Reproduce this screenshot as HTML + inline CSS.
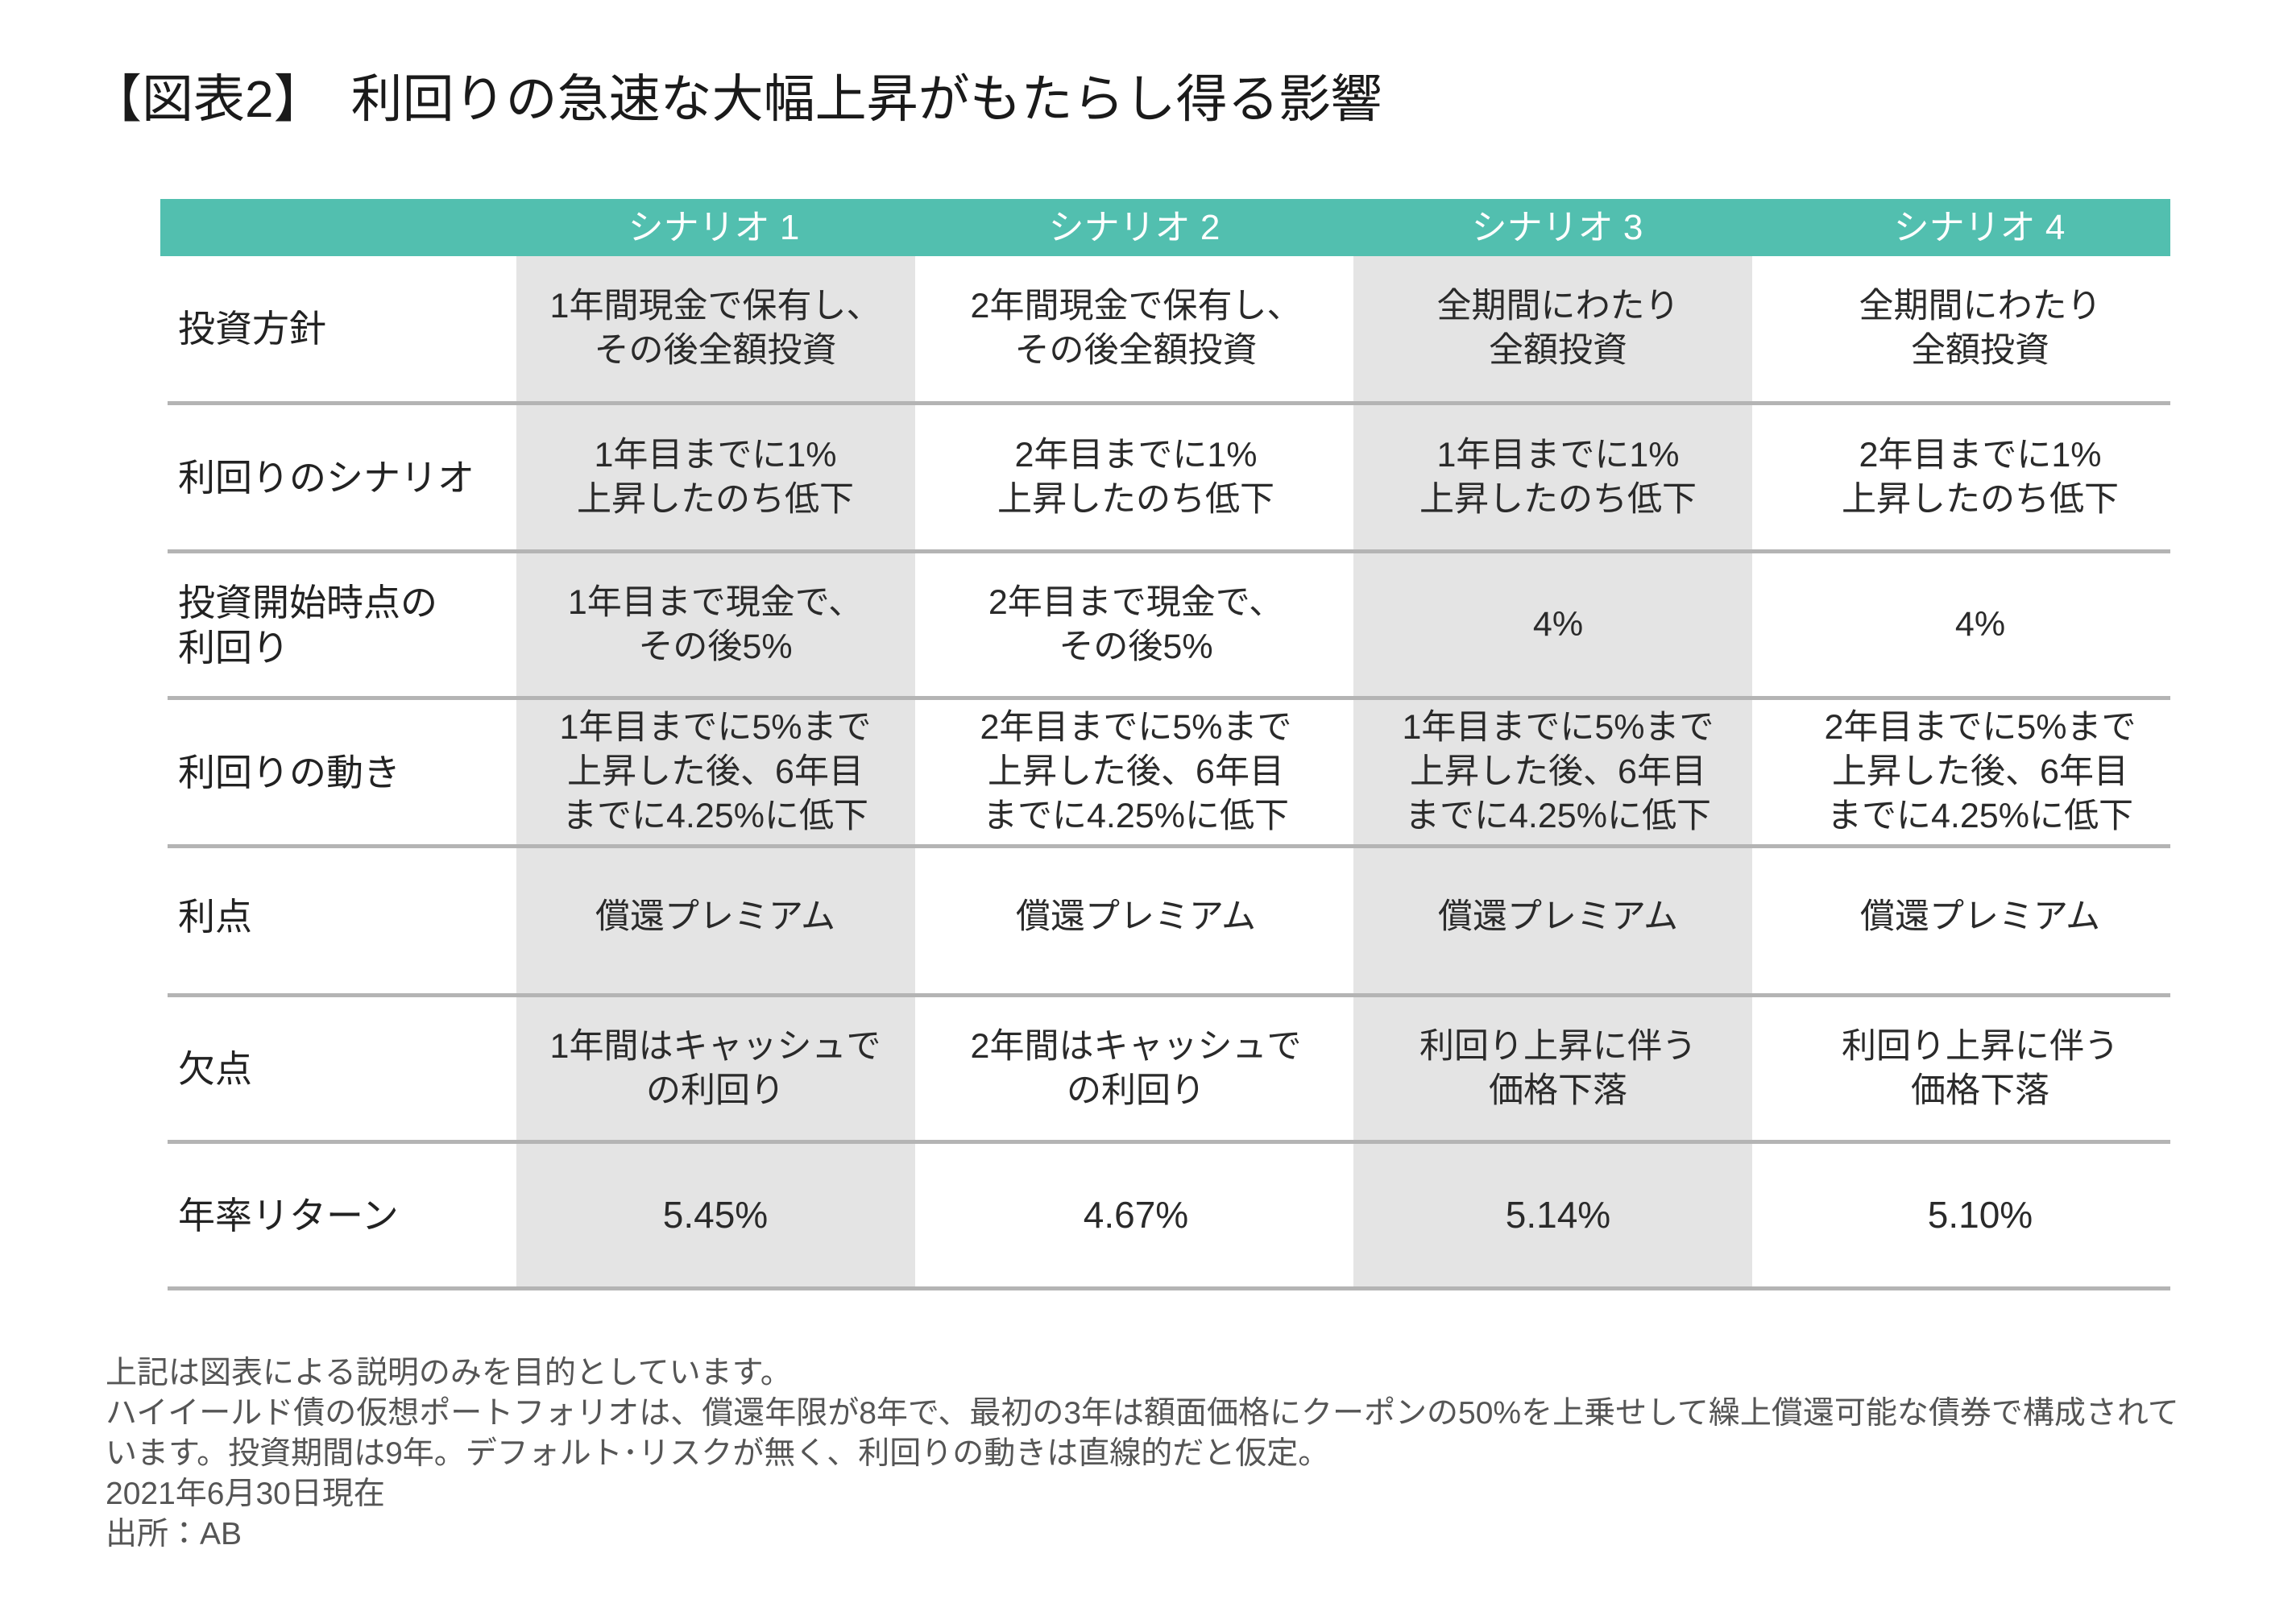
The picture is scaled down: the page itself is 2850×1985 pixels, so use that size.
<!DOCTYPE html>
<html><head><meta charset="utf-8"><style>
body{margin:0;width:2850px;height:1985px;background:#fff;position:relative;overflow:hidden;font-family:"Liberation Sans","Noto Sans CJK JP",sans-serif;color:#222}
.a{position:absolute}
.title{left:112px;top:83px;font-size:64px;line-height:80px;color:#1a1a1a;white-space:nowrap}
.hdr{left:199px;top:247px;width:2495px;height:71px;background:#52bfaf}
.ht{top:247px;height:71px;line-height:71px;color:#fff;font-size:44px;text-align:center;width:500px}
.g{top:318px;height:1284px;background:#e4e4e4}
.ln{left:208px;width:2486px;height:5px;background:#b4b4b4}
.row{left:0;width:2850px}
.lab{position:absolute;left:221px;top:0;height:100%;display:flex;align-items:center;font-size:46px;line-height:56px;color:#222}
.c{position:absolute;top:0;height:100%;width:520px;display:flex;align-items:center;justify-content:center;text-align:center;font-size:43px;line-height:55px;color:#2a2a2a}
.fn{left:131px;top:1680px;font-size:39px;line-height:50px;color:#555;white-space:nowrap}
</style></head><body>
<div class="a title">【図表2】　利回りの急速な大幅上昇がもたらし得る影響</div>
<div class="a hdr"></div>
<div class="a g" style="left:641px;width:495px"></div>
<div class="a g" style="left:1680px;width:495px"></div>
<div class="a ht" style="left:636px">シナリオ 1</div>
<div class="a ht" style="left:1158px">シナリオ 2</div>
<div class="a ht" style="left:1683px">シナリオ 3</div>
<div class="a ht" style="left:2207px">シナリオ 4</div>

<div class="a ln" style="top:498px"></div>
<div class="a ln" style="top:682px"></div>
<div class="a ln" style="top:864px"></div>
<div class="a ln" style="top:1048px"></div>
<div class="a ln" style="top:1233px"></div>
<div class="a ln" style="top:1415px"></div>
<div class="a ln" style="top:1597px"></div>

<div class="a row" style="top:318px;height:180px">
<div class="lab">投資方針</div>
<div class="c" style="left:628px">1年間現金で保有し、<br>その後全額投資</div>
<div class="c" style="left:1150px">2年間現金で保有し、<br>その後全額投資</div>
<div class="c" style="left:1674px">全期間にわたり<br>全額投資</div>
<div class="c" style="left:2198px">全期間にわたり<br>全額投資</div>
</div>
<div class="a row" style="top:503px;height:179px">
<div class="lab">利回りのシナリオ</div>
<div class="c" style="left:628px">1年目までに1%<br>上昇したのち低下</div>
<div class="c" style="left:1150px">2年目までに1%<br>上昇したのち低下</div>
<div class="c" style="left:1674px">1年目までに1%<br>上昇したのち低下</div>
<div class="c" style="left:2198px">2年目までに1%<br>上昇したのち低下</div>
</div>
<div class="a row" style="top:687px;height:177px">
<div class="lab">投資開始時点の<br>利回り</div>
<div class="c" style="left:628px">1年目まで現金で、<br>その後5%</div>
<div class="c" style="left:1150px">2年目まで現金で、<br>その後5%</div>
<div class="c" style="left:1674px">4%</div>
<div class="c" style="left:2198px">4%</div>
</div>
<div class="a row" style="top:869px;height:179px">
<div class="lab">利回りの動き</div>
<div class="c" style="left:628px">1年目までに5%まで<br>上昇した後、6年目<br>までに4.25%に低下</div>
<div class="c" style="left:1150px">2年目までに5%まで<br>上昇した後、6年目<br>までに4.25%に低下</div>
<div class="c" style="left:1674px">1年目までに5%まで<br>上昇した後、6年目<br>までに4.25%に低下</div>
<div class="c" style="left:2198px">2年目までに5%まで<br>上昇した後、6年目<br>までに4.25%に低下</div>
</div>
<div class="a row" style="top:1053px;height:170px">
<div class="lab">利点</div>
<div class="c" style="left:628px">償還プレミアム</div>
<div class="c" style="left:1150px">償還プレミアム</div>
<div class="c" style="left:1674px">償還プレミアム</div>
<div class="c" style="left:2198px">償還プレミアム</div>
</div>
<div class="a row" style="top:1238px;height:177px">
<div class="lab">欠点</div>
<div class="c" style="left:628px">1年間はキャッシュで<br>の利回り</div>
<div class="c" style="left:1150px">2年間はキャッシュで<br>の利回り</div>
<div class="c" style="left:1674px">利回り上昇に伴う<br>価格下落</div>
<div class="c" style="left:2198px">利回り上昇に伴う<br>価格下落</div>
</div>
<div class="a row" style="top:1420px;height:177px">
<div class="lab">年率リターン</div>
<div class="c" style="left:628px;font-size:46px">5.45%</div>
<div class="c" style="left:1150px;font-size:46px">4.67%</div>
<div class="c" style="left:1674px;font-size:46px">5.14%</div>
<div class="c" style="left:2198px;font-size:46px">5.10%</div>
</div>

<div class="a fn">上記は図表による説明のみを目的としています。<br>ハイイールド債の仮想ポートフォリオは、償還年限が8年で、最初の3年は額面価格にクーポンの50%を上乗せして繰上償還可能な債券で構成されて<br>います。投資期間は9年。デフォルト･リスクが無く、利回りの動きは直線的だと仮定。<br>2021年6月30日現在<br>出所：AB</div>
</body></html>
